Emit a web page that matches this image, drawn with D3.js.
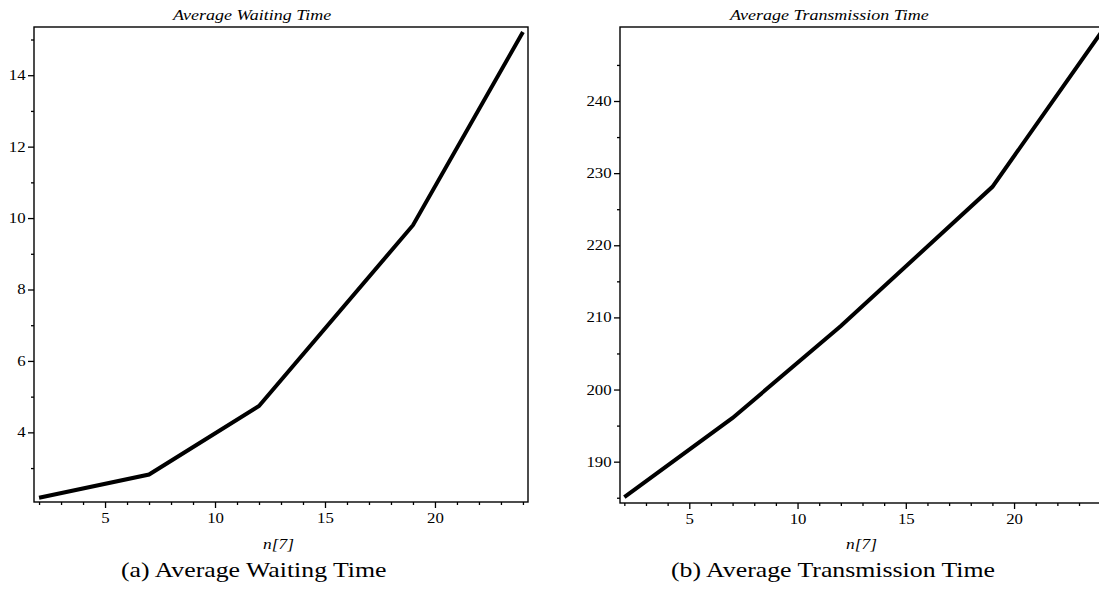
<!DOCTYPE html>
<html>
<head>
<meta charset="utf-8">
<script src="https://cdn.jsdelivr.net/npm/d3@7"></script>
<style>
  body { margin: 0; background: #fff; }
  text { font-family: "Liberation Serif", "DejaVu Serif", serif; fill: #000; }
  .title, .xlabel { font-style: italic; }
</style>
</head>
<body>
<div id="chart"></div>
<script>
var width = 1099,
    height = 605;
var stretch = 1.2; // the source picture is wider than tall, text looks stretched

// values
var n = [2, 7, 12, 19, 24];
var waitingTime = [2.17, 2.82, 4.74, 9.80, 15.21];
var transmissionTime = [185.07, 196.06, 208.8, 228.1, 249.4];
var xTicks = [5, 10, 15, 20];
var waitTicks = [4, 6, 8, 10, 12, 14];
var transTicks = [190, 200, 210, 220, 230, 240];

var svg = d3.select("#chart").append("svg")
    .attr("width", width)
    .attr("height", height);

var clip = svg.append("defs").append("clipPath").attr("id", "page")
clip.append("rect").attr("width", width).attr("height", height);

function addText(x, y, size, str, cls) {
    return svg.append("text")
        .attr("class", cls || null)
        .attr("transform", "translate(" + x + "," + y + ") scale(" + stretch + ",1)")
        .style("font-size", size + "px")
        .style("white-space", "pre")
        .text(str);
}

function drawPanel(opts) {
    var x = d3.scaleLinear().domain(opts.xDomain).range(opts.xRange);
    var y = d3.scaleLinear().domain(opts.yDomain).range(opts.yRange);

    var g = svg.append("g").attr("clip-path", "url(#page)");

    // frame
    g.append("rect")
        .attr("x", opts.xRange[0])
        .attr("y", opts.yRange[1])
        .attr("width", opts.xRange[1] - opts.xRange[0])
        .attr("height", opts.yRange[0] - opts.yRange[1])
        .attr("fill", "none")
        .attr("stroke", "#000")
        .attr("stroke-width", 1.4);

    // minor ticks
    var xMinor = d3.range(2, 25).filter(function(d) { return xTicks.indexOf(d) < 0; });
    g.append("g")
        .attr("transform", "translate(0," + opts.yRange[0] + ")")
        .call(d3.axisBottom(x).tickValues(xMinor).tickSize(3).tickFormat(""))
        .call(function(a) { a.select(".domain").remove(); });

    g.append("g")
        .attr("transform", "translate(" + opts.xRange[0] + ",0)")
        .call(d3.axisLeft(y).tickValues(opts.yMinor).tickSize(3).tickFormat(""))
        .call(function(a) { a.select(".domain").remove(); });

    // major ticks
    var xAxis = g.append("g")
        .attr("transform", "translate(0," + opts.yRange[0] + ")")
        .call(d3.axisBottom(x).tickValues(xTicks).tickSize(6).tickPadding(5).tickFormat(d3.format("d")));
    xAxis.select(".domain").remove();

    var yAxis = g.append("g")
        .attr("transform", "translate(" + opts.xRange[0] + ",0)")
        .call(d3.axisLeft(y).tickValues(opts.yTicks).tickSize(6).tickPadding(1).tickFormat(d3.format("d")));
    yAxis.select(".domain").remove();

    g.selectAll(".tick line").attr("stroke", "#000").attr("stroke-width", 1.3);
    g.selectAll(".tick text")
        .attr("transform", "scale(" + stretch + ",1)")
        .style("font-family", "'Liberation Serif', serif")
        .style("font-size", "14px");

    // the curve
    var line = d3.line()
        .x(function(d, i) { return x(n[i]); })
        .y(function(d) { return y(d); });

    g.append("path")
        .datum(opts.values)
        .attr("d", line)
        .attr("fill", "none")
        .attr("stroke", "#000")
        .attr("stroke-width", 4)
        .attr("stroke-linejoin", "miter");

    addText(opts.titleX, 20, 15, opts.title, "title");
    addText(opts.labelX, 549, 14.5, "n[7]", "xlabel");
    addText(opts.captionX, 577, 21.5, opts.caption);
}

drawPanel({
    xDomain: [1.77, 24.23], xRange: [34, 528],
    yDomain: [2.05, 15.35], yRange: [502, 27],
    yTicks: waitTicks, yMinor: [3, 5, 7, 9, 11, 13, 15],
    values: waitingTime,
    title: "Average Waiting Time", titleX: 173,
    labelX: 263,
    caption: "(a) Average Waiting Time", captionX: 121
});

drawPanel({
    xDomain: [1.8, 24.2], xRange: [620, 1105],
    yDomain: [184.27, 250.26], yRange: [503, 27],
    yTicks: transTicks, yMinor: [185, 195, 205, 215, 225, 235, 245],
    values: transmissionTime,
    title: "Average Transmission Time", titleX: 730,
    labelX: 846,
    caption: "(b) Average Transmission Time", captionX: 671
});
</script>
</body>
</html>
